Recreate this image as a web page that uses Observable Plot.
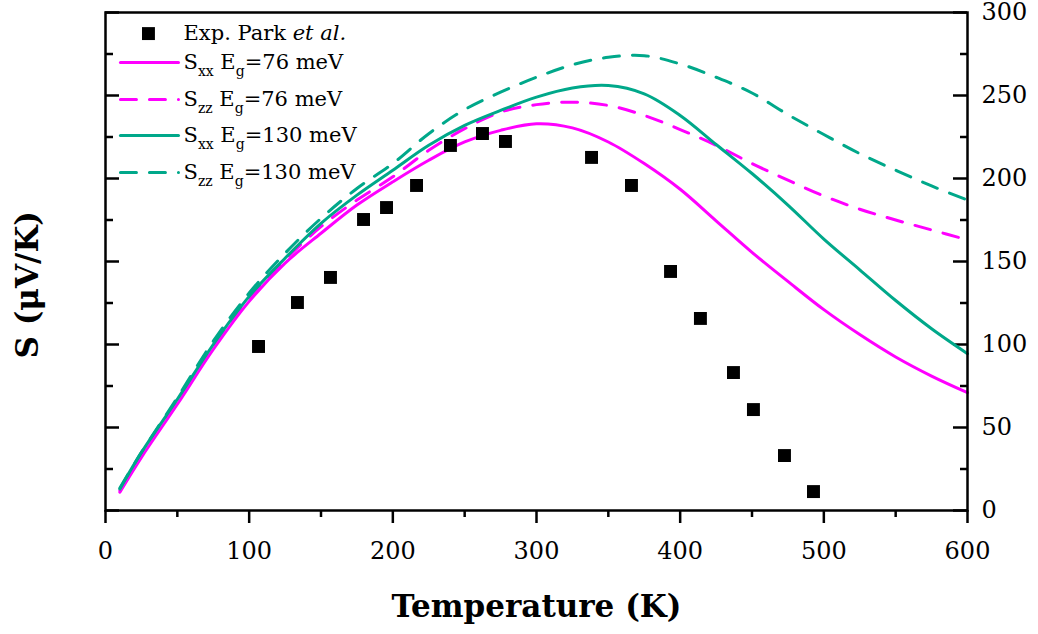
<!DOCTYPE html>
<html>
<head>
<meta charset="utf-8">
<script src="https://cdn.jsdelivr.net/npm/d3@7"></script>
<script src="https://cdn.jsdelivr.net/npm/@observablehq/plot@0.6"></script>
<style>
  html, body { margin: 0; padding: 0; background: #fff; }
  #chart { width: 1038px; height: 634px; }
</style>
</head>
<body>
<div id="chart"></div>
<script>
// ---- data ----
const temperature = [10,25,50,75,100,125,150,175,200,225,250,275,300,325,350,375,400,425,450,475,500,525,550,575,600];
const sxx76  = [11,32,64,97,126,149,167,184,198,211,222,229,233,230.5,222,209,193.5,174.5,155.5,138,121,106,92.5,81,71];
const szz76  = [12,33,66,99,128,151,171,187,201,217,230,240,244.5,246,244,238,229.5,220,209,199,189.5,181.5,175,169,163];
const sxx130 = [13,35,67,100,129,152,173,190,205,220,232,241,249,254.5,256,251,238,220.5,203,184,163.5,145,126.5,109.5,94.5];
const szz130 = [13.5,35,68,102,131,155,176,194,209,227,241.5,252,261,268.5,273,274,269,261,251.5,238.5,226.5,215,205,195.5,187];

const expT = [106.5,133.6,156.6,179.6,195.6,216.5,240.1,262.4,278.4,338.3,366.1,393.3,414.1,437.1,451.0,472.6,492.8];
const expS = [98.8,125.3,140.4,175.3,182.5,195.8,219.9,227.1,222.3,212.7,195.8,144.0,115.7,83.1,60.8,33.1,11.4];

const seriesNames = ["S_{xx} E_{g}=76 meV", "S_{zz} E_{g}=76 meV", "S_{xx} E_{g}=130 meV", "S_{zz} E_{g}=130 meV"];
const expName = "Exp. Park *et al.*";
const xTicksMajor = [0,100,200,300,400,500,600];
const xTicksMinor = [50,150,250,350,450,550];
const yTicksMajor = [0,50,100,150,200,250,300];
const yTicksMinor = [25,75,125,175,225,275];
const xLabel = "Temperature (K)";
const yLabel = "S (μV/K)";

// ---- build ----
const MAG = "#ff00ff", TEAL = "#00a88a";
const seriesStyle = [
  {stroke: MAG, dash: null},
  {stroke: MAG, dash: "16,13"},
  {stroke: TEAL, dash: null},
  {stroke: TEAL, dash: "16,13"}
];
const seriesValues = [sxx76, szz76, sxx130, szz130];
const rows = seriesValues.map((vals, k) => temperature.map((t, i) => ({t, s: vals[i], k})));

const expData = expT.map((t, i) => ({t, s: expS[i]}));

// legend layout (data-space anchors)
const legendRowY = [287.3, 269.9, 247.6, 225.9, 203.6];
const legendLineX = [10.4, 50.8];
const legendTextX = 54.3;
const legendSymX = 29.9;

const marks = [];
const plotW = 1038 - 105 - 71;

// inward left/right ticks
marks.push(Plot.tickY(yTicksMajor, {y: d => d, insetRight: plotW - 14, strokeWidth: 2.5}));
marks.push(Plot.tickY(yTicksMinor, {y: d => d, insetRight: plotW - 8, strokeWidth: 2.5}));
marks.push(Plot.tickY(yTicksMajor, {y: d => d, insetLeft: plotW - 14, strokeWidth: 2.5}));
marks.push(Plot.tickY(yTicksMinor, {y: d => d, insetLeft: plotW - 7, strokeWidth: 2.5}));

// right axis labels
marks.push(Plot.axisY({anchor: "right", ticks: yTicksMajor, tickSize: 0, tickPadding: 14, label: null, fontSize: 24}));
// bottom axis
marks.push(Plot.axisX({ticks: xTicksMajor, tickSize: 13, tickPadding: 18, strokeWidth: 2.5, label: null, fontSize: 24}));
marks.push(Plot.axisX({ticks: xTicksMinor, tickSize: 7, strokeWidth: 2.5, tickFormat: () => "", label: null}));

// curves
rows.forEach((data, k) => {
  marks.push(Plot.line(data, {
    x: "t", y: "s", stroke: seriesStyle[k].stroke, strokeWidth: 3,
    strokeDasharray: seriesStyle[k].dash, curve: "catmull-rom"
  }));
});

// experimental points
marks.push(Plot.dot(expData, {x: "t", y: "s", symbol: "square", r: 7.3, fill: "black", stroke: null}));

// legend
marks.push(Plot.dot([expName], {x: () => legendSymX, y: () => legendRowY[0], symbol: "square", r: 7.3, fill: "black", stroke: null}));
marks.push(Plot.text([expName], {x: () => legendTextX, y: () => legendRowY[0], text: d => d, textAnchor: "start", fontSize: 21}));
seriesNames.forEach((name, k) => {
  const yy = legendRowY[k + 1];
  marks.push(Plot.line(legendLineX.map(x => ({x, y: yy})), {x: "x", y: "y", stroke: seriesStyle[k].stroke, strokeWidth: 3, strokeDasharray: seriesStyle[k].dash}));
  marks.push(Plot.text([name], {x: () => legendTextX, y: () => yy, text: d => d, textAnchor: "start", fontSize: 21}));
});

// frame
marks.push(Plot.frame({strokeWidth: 2.5}));

// axis titles
marks.push(Plot.text([xLabel], {frameAnchor: "bottom", dy: 106, text: d => d, fontSize: 31, fontWeight: "bold"}));
marks.push(Plot.text([yLabel], {x: () => -54, y: () => 136, rotate: -90, text: d => d, fontSize: 31, fontWeight: "bold"}));

const chart = Plot.plot({
  width: 1038, height: 634,
  marginTop: 12, marginRight: 71, marginBottom: 124, marginLeft: 105,
  x: {domain: [0, 600]},
  y: {domain: [0, 300]},
  style: {fontFamily: "'DejaVu Serif', serif", fontSize: "24px", color: "black", background: "white", overflow: "visible"},
  marks
});

// rich text: _{sub} and *italic*
chart.querySelectorAll("text").forEach(t => {
  const s = t.textContent;
  if (!/_\{|\*/.test(s)) return;
  const re = /_\{([^}]*)\}|\*([^*]*)\*|([^_*]+)/g;
  const parts = [];
  let m;
  while ((m = re.exec(s)) !== null) {
    if (m[1] !== undefined) parts.push({type: "sub", text: m[1]});
    else if (m[2] !== undefined) parts.push({type: "it", text: m[2]});
    else parts.push({type: "n", text: m[3]});
  }
  t.textContent = "";
  const ns = "http://www.w3.org/2000/svg";
  let shifted = false;
  parts.forEach(p => {
    const ts = document.createElementNS(ns, "tspan");
    ts.textContent = p.text;
    if (p.type === "sub") {
      ts.setAttribute("font-size", "14");
      ts.setAttribute("dy", "7");
      shifted = true;
    } else {
      if (shifted) { ts.setAttribute("dy", "-7"); shifted = false; }
      if (p.type === "it") ts.setAttribute("font-style", "italic");
    }
    t.appendChild(ts);
  });
});

document.getElementById("chart").appendChild(chart);
</script>
</body>
</html>
